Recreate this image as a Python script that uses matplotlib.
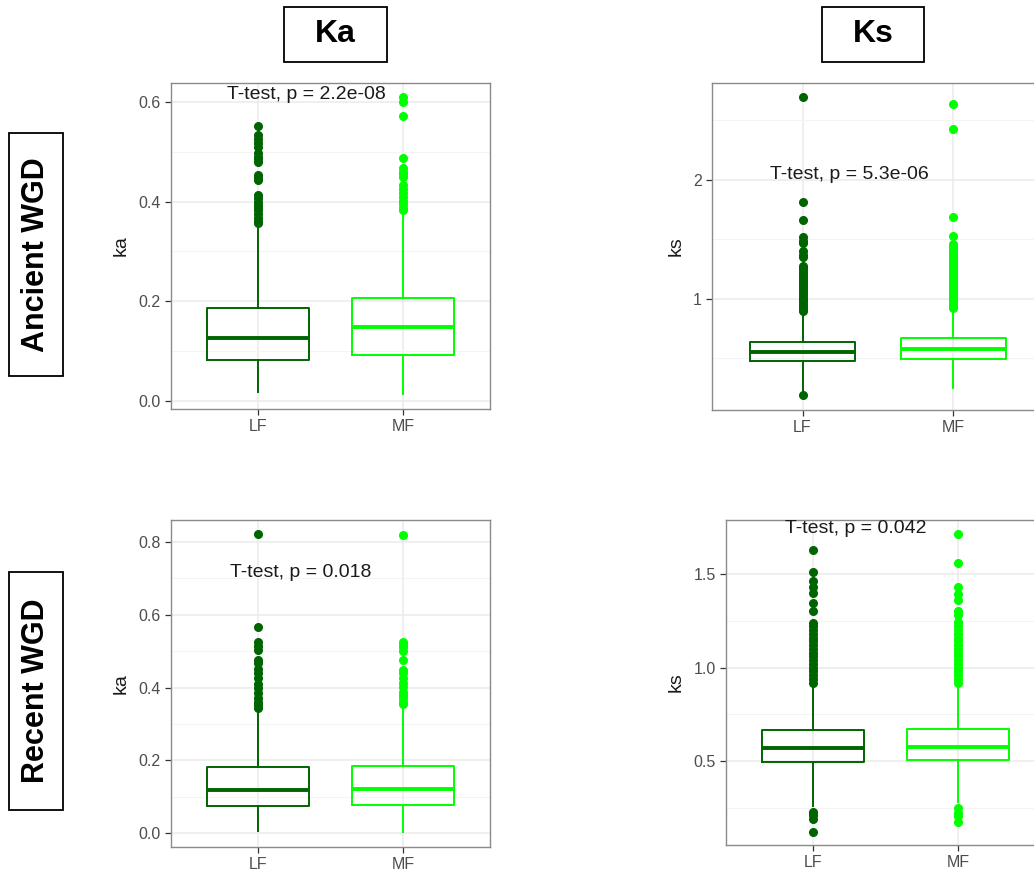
import matplotlib.pyplot as plt
from matplotlib.patches import Rectangle

plt.rcParams['font.family'] = ['Liberation Sans', 'DejaVu Sans']

groups = ['LF', 'MF']
group_colors = ['#006400', '#00FF00']

# box stats: whisker low, Q1, median, Q3, whisker high
# Ancient WGD, Ka
anc_ka_lf_box = [0.018, 0.082, 0.126, 0.187, 0.352]
anc_ka_lf_out = [0.357, 0.362, 0.368, 0.375, 0.383, 0.387, 0.393, 0.400, 0.407, 0.413,
                 0.443, 0.448, 0.453, 0.480, 0.485, 0.490, 0.497, 0.510, 0.518, 0.526,
                 0.534, 0.552]
anc_ka_mf_box = [0.014, 0.092, 0.149, 0.207, 0.378]
anc_ka_mf_out = [0.383, 0.388, 0.395, 0.402, 0.410, 0.418, 0.425, 0.433, 0.450, 0.455,
                 0.460, 0.467, 0.488, 0.571, 0.600, 0.610]

# Ancient WGD, Ks
anc_ks_lf_box = [0.22, 0.479, 0.555, 0.641, 0.893]
anc_ks_lf_out = [0.193, 0.90, 0.92, 0.94, 0.96, 0.98, 1.00, 1.02, 1.04, 1.06, 1.08, 1.10,
                 1.12, 1.14, 1.16, 1.18, 1.20, 1.22, 1.24, 1.26, 1.28, 1.35, 1.37, 1.40,
                 1.47, 1.49, 1.52, 1.66, 1.815, 2.70]
anc_ks_mf_box = [0.249, 0.499, 0.577, 0.675, 0.908]
anc_ks_mf_out = [0.92, 0.94, 0.96, 0.98, 1.00, 1.02, 1.04, 1.06, 1.08, 1.10, 1.12, 1.14,
                 1.16, 1.18, 1.20, 1.22, 1.24, 1.26, 1.28, 1.30, 1.32, 1.34, 1.36, 1.38,
                 1.40, 1.42, 1.44, 1.46, 1.53, 1.69, 2.43, 2.64]

# Recent WGD, Ka
rec_ka_lf_box = [0.005, 0.074, 0.118, 0.182, 0.338]
rec_ka_lf_out = [0.343, 0.352, 0.361, 0.370, 0.384, 0.398, 0.411, 0.425, 0.439, 0.452,
                 0.466, 0.475, 0.503, 0.515, 0.526, 0.565, 0.821]
rec_ka_mf_box = [0.003, 0.077, 0.120, 0.185, 0.350]
rec_ka_mf_out = [0.355, 0.361, 0.370, 0.380, 0.389, 0.402, 0.413, 0.425, 0.439, 0.448,
                 0.475, 0.501, 0.512, 0.519, 0.526, 0.819]

# Recent WGD, Ks
rec_ks_lf_box = [0.259, 0.496, 0.571, 0.666, 0.906]
rec_ks_lf_out = [0.122, 0.188, 0.211, 0.229, 0.92, 0.94, 0.96, 0.98, 1.00, 1.02, 1.04,
                 1.06, 1.08, 1.10, 1.12, 1.14, 1.16, 1.18, 1.20, 1.22, 1.24, 1.302,
                 1.347, 1.397, 1.429, 1.463, 1.512, 1.628]
rec_ks_mf_box = [0.282, 0.505, 0.577, 0.671, 0.915]
rec_ks_mf_out = [0.176, 0.206, 0.220, 0.247, 0.92, 0.94, 0.96, 0.98, 1.00, 1.02, 1.04,
                 1.06, 1.08, 1.10, 1.12, 1.14, 1.16, 1.18, 1.20, 1.22, 1.245, 1.281,
                 1.30, 1.361, 1.391, 1.429, 1.557, 1.712]

p_labels = ['T-test, p = 2.2e-08', 'T-test, p = 5.3e-06', 'T-test, p = 0.018', 'T-test, p = 0.042']

W, H = 1034, 873
fig = plt.figure(figsize=(W / 100, H / 100), dpi=100)


def px_axes(x0, y0, x1, y1):
    # пиксели -> доли фигуры
    return fig.add_axes([x0 / W, 1 - y1 / H, (x1 - x0) / W, (y1 - y0) / H])


def draw_panel(ax, boxes, outs, ylim, yticks, yticklabels, minor, ylabel, label, label_xy):
    stats = []
    for name, b, o in zip(groups, boxes, outs):
        stats.append(dict(label=name, whislo=b[0], q1=b[1], med=b[2], q3=b[3], whishi=b[4], fliers=o))
    for i, (s, c) in enumerate(zip(stats, group_colors)):
        ax.bxp([s], positions=[i + 1], widths=0.7, showcaps=False, manage_ticks=False,
               boxprops=dict(color=c, lw=1.4),
               whiskerprops=dict(color=c, lw=1.4),
               medianprops=dict(color=c, lw=2.8, solid_capstyle='butt'),
               flierprops=dict(marker='o', markerfacecolor=c, markeredgecolor=c, markersize=5.5))
    ax.set_xlim(0.4, 2.6)
    ax.set_ylim(*ylim)
    ax.set_xticks([1, 2])
    ax.set_xticklabels(groups)
    ax.set_yticks(yticks)
    ax.set_yticklabels(yticklabels)
    ax.set_yticks(minor, minor=True)
    ax.tick_params(axis='y', which='minor', length=0)
    ax.tick_params(which='major', length=4, color='#333333', labelcolor='#4d4d4d', labelsize=11.5, width=0.9)
    ax.grid(True, which='major', color='#ebebeb', lw=1.1)
    ax.grid(True, which='minor', axis='y', color='#f4f4f4', lw=0.8)
    ax.set_axisbelow(True)
    for sp in ax.spines.values():
        sp.set_color('#8a8a8a')
        sp.set_linewidth(1.0)
    ax.set_ylabel(ylabel, fontsize=14, color='#1a1a1a', labelpad=6)
    ax.text(label_xy[0], label_xy[1], label, fontsize=14, color='#1a1a1a', ha='left', va='center')


ax1 = px_axes(171, 83, 490, 409)
draw_panel(ax1, [anc_ka_lf_box, anc_ka_mf_box], [anc_ka_lf_out, anc_ka_mf_out],
           (-0.016, 0.638), [0.0, 0.2, 0.4, 0.6], ['0.0', '0.2', '0.4', '0.6'], [0.1, 0.3, 0.5],
           'ka', p_labels[0], (0.786, 0.614))

ax2 = px_axes(712, 83, 1044, 410)
draw_panel(ax2, [anc_ks_lf_box, anc_ks_mf_box], [anc_ks_lf_out, anc_ks_mf_out],
           (0.067, 2.815), [1, 2], ['1', '2'], [0.5, 1.5, 2.5],
           'ks', p_labels[1], (0.784, 2.05))

ax3 = px_axes(171, 520, 490, 847)
draw_panel(ax3, [rec_ka_lf_box, rec_ka_mf_box], [rec_ka_lf_out, rec_ka_mf_out],
           (-0.038, 0.86), [0.0, 0.2, 0.4, 0.6, 0.8], ['0.0', '0.2', '0.4', '0.6', '0.8'],
           [0.1, 0.3, 0.5, 0.7], 'ka', p_labels[2], (0.807, 0.717))

ax4 = px_axes(726, 520, 1045, 845)
draw_panel(ax4, [rec_ks_lf_box, rec_ks_mf_box], [rec_ks_lf_out, rec_ks_mf_out],
           (0.051, 1.789), [0.5, 1.0, 1.5], ['0.5', '1.0', '1.5'], [0.25, 0.75, 1.25],
           'ks', p_labels[3], (0.807, 1.745))


# рамки с заголовками
def boxed_label(x0, y0, x1, y1, text, rotation, size):
    fig.patches.append(Rectangle((x0 / W, 1 - y1 / H), (x1 - x0) / W, (y1 - y0) / H,
                                 transform=fig.transFigure, fill=False, edgecolor='black', lw=1.3))
    fig.text((x0 + x1) / 2 / W, 1 - (y0 + y1) / 2 / H, text, rotation=rotation,
             ha='center', va='center', fontsize=size, fontweight='bold')


boxed_label(284, 7, 387, 62, 'Ka', 0, 23)
boxed_label(822, 7, 924, 62, 'Ks', 0, 23)
boxed_label(9, 133, 63, 376, 'Ancient WGD', 90, 22)
boxed_label(9, 572, 63, 810, 'Recent WGD', 90, 22)

fig.savefig('out.png', dpi=100)
